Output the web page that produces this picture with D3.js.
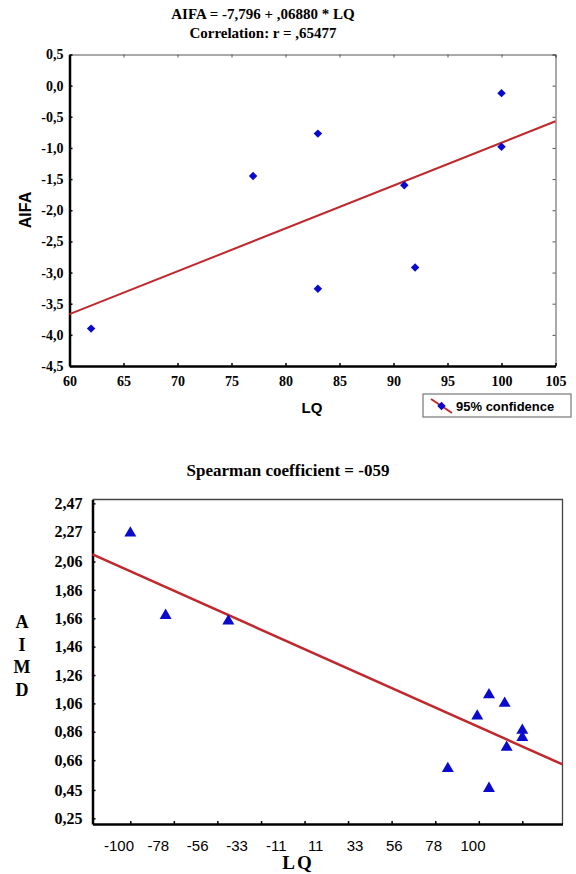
<!DOCTYPE html>
<html>
<head>
<meta charset="utf-8">
<script src="https://cdn.jsdelivr.net/npm/d3@7"></script>
<style>
  body { margin: 0; background: #fff; }
</style>
</head>
<body>
<div id="chart"></div>
<script>
// ---- data: top chart (AIFA vs LQ) ----
var aifaLQ = [62, 77, 83, 83, 91, 92, 100, 100];
var aifaValues = [-3.90, -1.45, -0.77, -3.26, -1.60, -2.92, -0.12, -0.98];
var aifaIntercept = -7.796;
var aifaSlope = 0.0688;
var aifaXTicks = [60, 65, 70, 75, 80, 85, 90, 95, 100, 105];
var aifaYTicks = [0.5, 0.0, -0.5, -1.0, -1.5, -2.0, -2.5, -3.0, -3.5, -4.0, -4.5];

// ---- data: bottom chart (AIMD vs LQ) ----
var aimdLQ = [-100, -82, -50, 83, 91, 77, 100, 100, 92, 62, 83];
var aimdValues = [2.26, 1.68, 1.64, 1.12, 1.06, 0.97, 0.87, 0.82, 0.75, 0.60, 0.46];
var aimdLineLQ = [-119.3, 120.5];
var aimdLineValues = [2.11, 0.63];
var aimdYTicks = [2.47, 2.27, 2.06, 1.86, 1.66, 1.46, 1.26, 1.06, 0.86, 0.66, 0.45, 0.25];
var aimdXTicks = [-100, -77.8, -55.6, -33.3, -11.1, 11.1, 33.3, 55.6, 77.8, 100];
var aimdXLabels = ["-100", "-78", "-56", "-33", "-11", "11", "33", "56", "78", "100"];

var blue = "#0a0acc";
var red = "#c0282d";
var SERIF = "'Liberation Serif', 'Times New Roman', serif";
var SANS = "'Liberation Sans', Arial, sans-serif";
var comma = function(fmt) {
  var f = d3.format(fmt);
  return function(d) { return f(d).replace(".", ",").replace("−", "-"); };
};

var svg = d3.select("#chart").append("svg")
  .attr("width", 576)
  .attr("height", 874);

// ================= TOP CHART =================
var x1 = d3.scaleLinear().domain([60, 105]).range([69.5, 555.5]);
var y1 = d3.scaleLinear().domain([-4.5, 0.5]).range([366, 54.5]);

var topChart = svg.append("g");

topChart.append("text")
  .attr("x", 263).attr("y", 19)
  .attr("text-anchor", "middle")
  .attr("font-family", SERIF).attr("font-weight", "bold").attr("font-size", 15)
  .text("AIFA = -7,796 + ,06880 * LQ");
topChart.append("text")
  .attr("x", 263).attr("y", 38)
  .attr("text-anchor", "middle")
  .attr("font-family", SERIF).attr("font-weight", "bold").attr("font-size", 15)
  .text("Correlation: r = ,65477");

// frame top/right
topChart.append("g")
  .attr("transform", "translate(0," + y1.range()[1] + ")")
  .call(d3.axisTop(x1).tickValues(aifaXTicks).tickSize(-3).tickFormat(""))
  .call(function(g) { g.selectAll("path, line").attr("stroke", "#555"); });
topChart.append("g")
  .attr("transform", "translate(" + x1.range()[1] + ",0)")
  .call(d3.axisRight(y1).tickValues(aifaYTicks).tickSize(-3).tickFormat(""))
  .call(function(g) { g.selectAll("path, line").attr("stroke", "#555"); });

// bottom axis
topChart.append("g")
  .attr("transform", "translate(0," + y1.range()[0] + ")")
  .attr("font-family", SERIF).attr("font-weight", "bold").attr("font-size", 14)
  .call(d3.axisBottom(x1).tickValues(aifaXTicks).tickSize(-3).tickSizeOuter(0).tickPadding(10))
  .call(function(g) {
    g.attr("font-family", SERIF).attr("font-size", 14);
    g.select(".domain").attr("stroke", "#000").attr("stroke-width", 2.5);
    g.selectAll("line").attr("stroke", "#000").attr("stroke-width", 1.5);
    g.selectAll("text").attr("fill", "#000");
  });

// left axis
topChart.append("g")
  .attr("transform", "translate(" + x1.range()[0] + ",0)")
  .attr("font-weight", "bold")
  .call(d3.axisLeft(y1).tickValues(aifaYTicks).tickSize(-3).tickSizeOuter(0).tickPadding(6)
    .tickFormat(comma(".1f")))
  .call(function(g) {
    g.attr("font-family", SERIF).attr("font-size", 14);
    g.select(".domain").attr("stroke", "#000").attr("stroke-width", 2.5);
    g.selectAll("line").attr("stroke", "#000").attr("stroke-width", 1.5);
    g.selectAll("text").attr("fill", "#000");
  });

// regression line
var lineTop = d3.line().x(function(d) { return x1(d); })
  .y(function(d) { return y1(aifaIntercept + aifaSlope * d); });
topChart.append("path")
  .attr("d", lineTop(x1.domain()))
  .attr("stroke", red).attr("stroke-width", 2).attr("fill", "none");

// points
var diamond = d3.symbol().type(d3.symbolSquare).size(36);
topChart.append("g").selectAll("path")
  .data(aifaLQ)
  .enter()
  .append("path")
  .attr("d", diamond)
  .attr("transform", function(d, i) {
    return "translate(" + x1(d) + "," + y1(aifaValues[i]) + ") rotate(45)";
  })
  .attr("fill", blue);

// axis titles
topChart.append("text")
  .attr("x", 312).attr("y", 413)
  .attr("text-anchor", "middle")
  .attr("font-family", SANS).attr("font-weight", "bold").attr("font-size", 15)
  .text("LQ");
topChart.append("text")
  .attr("transform", "translate(31,210) rotate(-90)")
  .attr("text-anchor", "middle")
  .attr("font-family", SANS).attr("font-weight", "bold").attr("font-size", 16)
  .text("AIFA");

// legend
var legend = topChart.append("g").attr("transform", "translate(423,394)");
legend.append("rect")
  .attr("width", 148).attr("height", 23)
  .attr("fill", "#fff").attr("stroke", "#777").attr("stroke-width", 1.2);
legend.append("line")
  .attr("x1", 8).attr("y1", 5).attr("x2", 29).attr("y2", 19)
  .attr("stroke", red).attr("stroke-width", 2);
legend.append("path")
  .attr("d", diamond)
  .attr("transform", "translate(18.5,12) rotate(45)")
  .attr("fill", blue);
legend.append("text")
  .attr("x", 33).attr("y", 17)
  .attr("font-family", SANS).attr("font-weight", "bold").attr("font-size", 13)
  .text("95% confidence");

// ================= BOTTOM CHART =================
var x2 = d3.scaleLinear().domain([-119.3, 120.5]).range([92.5, 562.5]);
var y2 = d3.scaleLinear().domain([0.21, 2.497]).range([824, 499.5]);
var xLabelPos = d3.scalePoint().domain(aimdXLabels).range([119, 473]);

var botChart = svg.append("g");

botChart.append("text")
  .attr("x", 288).attr("y", 476)
  .attr("text-anchor", "middle")
  .attr("font-family", SERIF).attr("font-weight", "bold").attr("font-size", 17)
  .text("Spearman coefficient = -059");

// frame
botChart.append("path")
  .attr("d", "M" + x2.range()[0] + "," + y2.range()[1] + "H" + x2.range()[1] + "V" + y2.range()[0])
  .attr("fill", "none").attr("stroke", "#444").attr("stroke-width", 1.3);

// bottom axis (tick marks only, labels placed below)
botChart.append("g")
  .attr("transform", "translate(0," + y2.range()[0] + ")")
  .call(d3.axisBottom(x2).tickValues(aimdXTicks).tickSize(-3).tickSizeOuter(0).tickFormat(""))
  .call(function(g) {
    g.select(".domain").attr("stroke", "#000").attr("stroke-width", 2.5);
    g.selectAll("line").attr("stroke", "#000").attr("stroke-width", 1.5);
  });
botChart.append("g").selectAll("text")
  .data(aimdXLabels)
  .enter()
  .append("text")
  .attr("x", function(d) { return xLabelPos(d); })
  .attr("y", 851)
  .attr("text-anchor", "middle")
  .attr("font-family", SANS).attr("font-size", 15)
  .text(function(d) { return d; });

// left axis
botChart.append("g")
  .attr("transform", "translate(" + x2.range()[0] + ",0)")
  .attr("font-weight", "bold")
  .call(d3.axisLeft(y2).tickValues(aimdYTicks).tickSize(-3).tickSizeOuter(0).tickPadding(10)
    .tickFormat(comma(".2f")))
  .call(function(g) {
    g.attr("font-family", SERIF).attr("font-size", 16);
    g.select(".domain").attr("stroke", "#000").attr("stroke-width", 2.5);
    g.selectAll("line").attr("stroke", "#000").attr("stroke-width", 1.5);
    g.selectAll("text").attr("fill", "#000");
  });

// regression line
var lineBot = d3.line()
  .x(function(d) { return x2(d); })
  .y(function(d, i) { return y2(aimdLineValues[i]); });
botChart.append("path")
  .attr("d", lineBot(aimdLineLQ))
  .attr("stroke", red).attr("stroke-width", 2.5).attr("fill", "none");

// points
var triangle = d3.symbol().type(d3.symbolTriangle).size(62);
botChart.append("g").selectAll("path")
  .data(aimdLQ)
  .enter()
  .append("path")
  .attr("d", triangle)
  .attr("transform", function(d, i) {
    return "translate(" + x2(d) + "," + y2(aimdValues[i]) + ")";
  })
  .attr("fill", blue);

// axis titles
botChart.append("text")
  .attr("x", 298).attr("y", 869)
  .attr("text-anchor", "middle")
  .attr("font-family", SERIF).attr("font-weight", "bold").attr("font-size", 19)
  .attr("letter-spacing", 2)
  .text("LQ");
var aimdLetters = ["A", "I", "M", "D"];
botChart.append("g").selectAll("text")
  .data(aimdLetters)
  .enter()
  .append("text")
  .attr("x", 22)
  .attr("y", function(d, i) { return 628 + i * 22.5; })
  .attr("text-anchor", "middle")
  .attr("font-family", SERIF).attr("font-weight", "bold").attr("font-size", 18)
  .text(function(d) { return d; });
</script>
</body>
</html>
